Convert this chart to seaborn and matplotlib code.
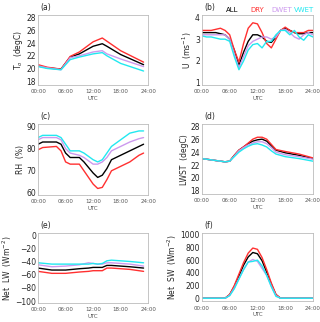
import pandas as pd
import matplotlib
matplotlib.use('Agg')
import matplotlib.pyplot as plt
import seaborn as sns

groups = ['ALL', 'DRY', 'DWET', 'VWET']
colors = {'ALL': 'black', 'DRY': '#ff3030', 'DWET': '#cc99ee', 'VWET': '#22e8f0'}

# (a) T0, hours
t0_hours = [0, 2, 5, 7, 9, 12, 14, 15, 18, 23]
t0 = {
    'ALL':  [20.4, 20.1, 19.9, 21.8, 22.3, 23.5, 23.9, 23.5, 22.2, 20.6],
    'DRY':  [20.6, 20.2, 19.9, 21.9, 22.6, 24.2, 24.8, 24.3, 22.8, 21.0],
    'DWET': [20.4, 20.1, 19.8, 21.7, 22.0, 22.6, 22.8, 22.3, 21.5, 20.3],
    'VWET': [20.3, 20.0, 19.8, 21.4, 21.8, 22.3, 22.5, 22.0, 20.8, 19.6],
}

# (b) U
u_hours = list(range(0, 25))
u = {
    'ALL':  [3.3, 3.3, 3.3, 3.3, 3.25, 3.2, 3.0, 2.5, 1.8, 2.4, 2.9, 3.2, 3.2, 3.1, 2.9, 2.85, 3.1, 3.4, 3.5, 3.4, 3.3, 3.25, 3.25, 3.3, 3.3],
    'DRY':  [3.4, 3.4, 3.4, 3.45, 3.5, 3.4, 3.2, 2.5, 1.95, 2.8, 3.5, 3.75, 3.7, 3.3, 2.8, 2.6, 3.0, 3.4, 3.55, 3.4, 3.3, 3.3, 3.3, 3.4, 3.4],
    'DWET': [3.2, 3.2, 3.2, 3.2, 3.2, 3.2, 3.0, 2.3, 1.7, 2.2, 2.7, 2.9, 3.0, 3.1, 3.1, 3.0, 3.1, 3.4, 3.45, 3.3, 3.1, 3.0, 3.2, 3.3, 3.2],
    'VWET': [3.15, 3.1, 3.1, 3.05, 3.0, 3.0, 2.9, 2.2, 1.6, 2.0, 2.5, 2.75, 2.8, 2.6, 2.9, 2.9, 3.2, 3.4, 3.4, 3.2, 3.4, 3.1, 2.95, 3.2, 3.1],
}

# (c) RH
rh_hours = [0, 1, 4, 5, 6, 7, 9, 10, 12, 13, 14, 15, 16, 18, 20, 22, 23]
rh = {
    'ALL':  [82, 83, 83, 82, 78, 76, 76, 74, 69, 67, 68, 71, 75, 77, 79, 81, 82],
    'DRY':  [79.5, 80.5, 81, 79, 74, 73, 73, 70, 64, 62, 62.5, 66, 70, 72, 74, 77, 78],
    'DWET': [84, 85, 85, 84, 80, 78, 77, 76, 73, 73, 74, 76, 79, 81, 83, 84.5, 85],
    'VWET': [85, 86, 86, 85, 82, 79, 79, 78, 75, 74, 75, 78, 81, 84, 87, 88, 88],
}

# (d) LWST
lw_hours = [0, 3, 5, 6, 7, 8, 9, 10, 11, 12, 13, 14, 15, 16, 18, 21, 24]
lwst = {
    'ALL':  [23.0, 22.7, 22.5, 22.6, 23.5, 24.3, 24.8, 25.3, 25.7, 25.9, 26.0, 25.7, 25.0, 24.3, 23.9, 23.5, 23.0],
    'DRY':  [23.0, 22.7, 22.5, 22.6, 23.5, 24.3, 24.8, 25.4, 26.0, 26.3, 26.3, 26.0, 25.2, 24.4, 24.1, 23.7, 23.1],
    'DWET': [23.0, 22.7, 22.5, 22.6, 23.4, 24.2, 24.7, 25.1, 25.4, 25.6, 25.6, 25.3, 24.7, 24.0, 23.6, 23.3, 22.9],
    'VWET': [23.0, 22.7, 22.5, 22.6, 23.3, 24.0, 24.5, 24.9, 25.2, 25.3, 25.1, 24.8, 24.2, 23.7, 23.3, 23.0, 22.6],
}

# (e) Net LW
nlw_hours = [0, 3, 6, 9, 11, 12, 13, 14, 15, 16, 18, 20, 23]
netlw = {
    'ALL':  [-50, -53, -53, -51, -50, -49, -49, -49, -46, -46, -47, -48, -50],
    'DRY':  [-55, -58, -58, -56, -55, -54, -54, -54, -50, -50, -51, -52, -55],
    'DWET': [-45, -48, -47, -45, -42, -43, -44, -44, -42, -42, -43, -44, -47],
    'VWET': [-42, -44, -44, -44, -44, -43, -44, -43, -39, -38, -39, -40, -42],
}

# (f) Net SW
sw_hours = [0, 5, 6, 7, 8, 9, 10, 11, 12, 13, 14, 15, 16, 17, 24]
netsw = {
    'ALL':  [0, 0, 55, 185, 350, 520, 650, 720, 700, 590, 410, 220, 55, 0, 0],
    'DRY':  [0, 0, 60, 200, 380, 560, 710, 790, 770, 640, 450, 240, 60, 0, 0],
    'DWET': [0, 0, 45, 160, 310, 450, 570, 610, 580, 470, 360, 190, 40, 0, 0],
    'VWET': [0, 0, 40, 150, 300, 450, 570, 580, 600, 510, 360, 180, 30, 0, 0],
}


def to_long(hours, series):
    rows = []
    for g in groups:
        for h, v in zip(hours, series[g]):
            rows.append({'hour': h, 'value': v, 'group': g})
    return pd.DataFrame(rows)


panels = [
    ('(a)', t0_hours, t0, 'T$_o$  (degC)', (17.4, 28.4), [18, 20, 22, 24, 26, 28], [0.119, 0.736, 0.344, 0.217]),
    ('(b)', u_hours, u, 'U  (ms$^{-1}$)', (0.9, 4.1), [1, 2, 3, 4], [0.631, 0.736, 0.347, 0.217]),
    ('(c)', rh_hours, rh, 'RH  (%)', (59, 91), [60, 70, 80, 90], [0.119, 0.394, 0.344, 0.220]),
    ('(d)', lw_hours, lwst, 'LWST  (degC)', (17.5, 28.3), [18, 20, 22, 24, 26, 28], [0.631, 0.397, 0.347, 0.217]),
    ('(e)', nlw_hours, netlw, 'Net  LW  (Wm$^{-2}$)', (-103, 3), [-100, -80, -60, -40, -20, 0], [0.119, 0.059, 0.344, 0.217]),
    ('(f)', sw_hours, netsw, 'Net  SW  (Wm$^{-2}$)', (-50, 1030), [0, 200, 400, 600, 800, 1000], [0.631, 0.064, 0.347, 0.213]),
]

sns.set_style('white')
plt.rcParams['font.family'] = ['DejaVu Sans']
fig = plt.figure(figsize=(3.2, 3.22), dpi=100)

for label, hours, series, ylab, ylim, yticks, pos in panels:
    ax = fig.add_axes(pos)
    df = to_long(hours, series)
    sns.lineplot(data=df, x='hour', y='value', hue='group', palette=colors,
                 hue_order=groups, linewidth=1.0, legend=False, ax=ax)
    ax.set_xlim(0, 24)
    ax.set_ylim(*ylim)
    ax.set_yticks(yticks)
    ax.set_xticks([0, 6, 12, 18, 24])
    ax.set_xticklabels(['00:00', '06:00', '12:00', '18:00', '24:00'], fontsize=4, color='#555555')
    ax.tick_params(axis='y', labelsize=5.5, direction='in', length=2, color='#aaaaaa', pad=1.5)
    ax.tick_params(axis='x', direction='in', length=2, color='#aaaaaa', pad=3)
    ax.set_xlabel('UTC', fontsize=4, color='#555555', labelpad=1)
    ax.set_ylabel(ylab, fontsize=5.5, labelpad=1)
    for s in ax.spines.values():
        s.set_color('#bbbbbb')
        s.set_linewidth(0.6)
    ax.text(0.02, 1.04, label, transform=ax.transAxes, fontsize=5.5, ha='left', va='bottom')

# colored legend text above panel (b)
xs = [0.27, 0.50, 0.72, 0.92]
for g, xx in zip(groups, xs):
    fig.text(0.631 + 0.347 * xx, 0.968, g, color=colors[g], fontsize=5, ha='center', va='center')

fig.savefig('out.png', dpi=100)
